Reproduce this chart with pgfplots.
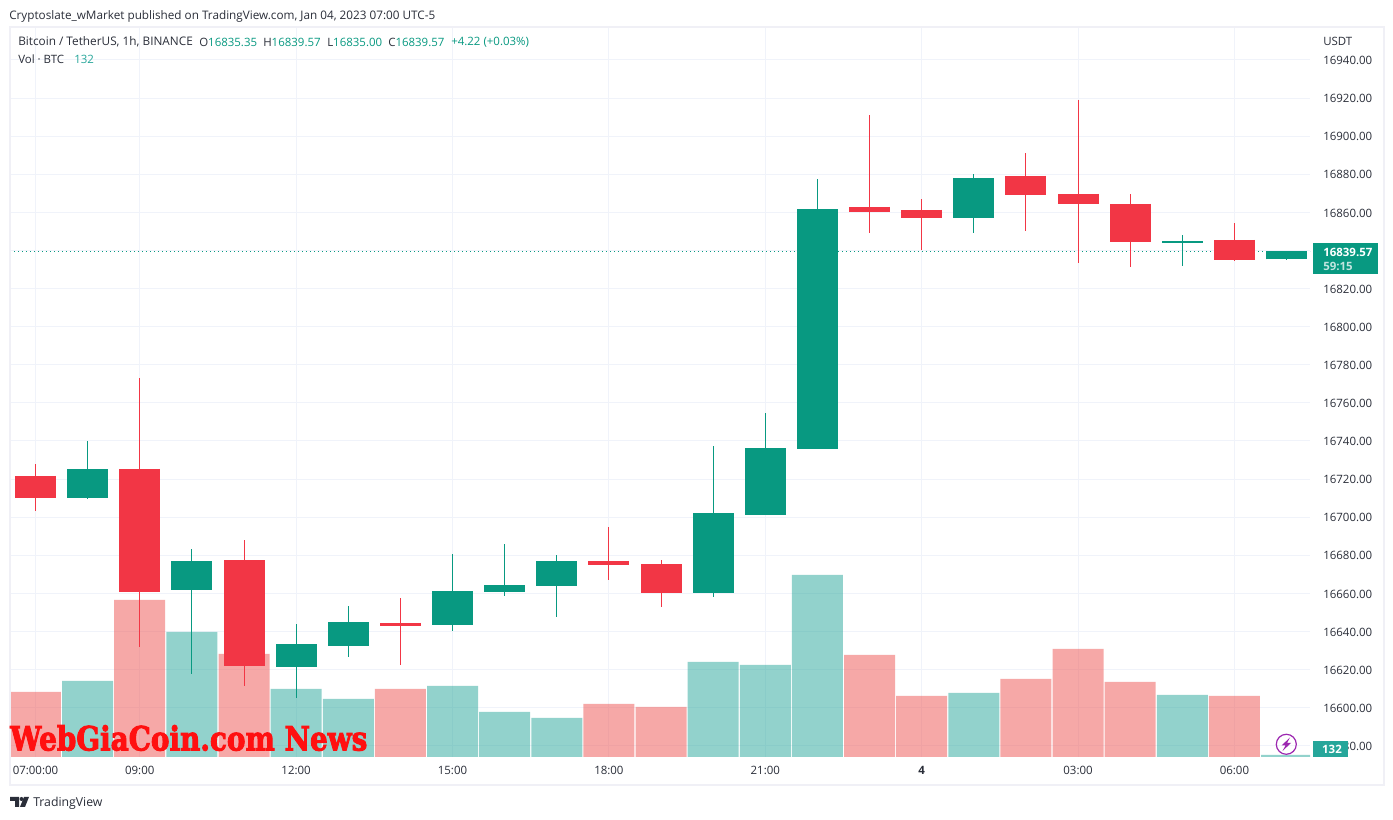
\documentclass[border=0pt]{standalone}
\usepackage{fontspec}
\setmainfont{Open Sans}
\newfontfamily\wmfont{DejaVu Serif}[BoldFeatures={FakeBold=3}]
\usepackage{pgfplots}
\usepackage{pgfplotstable}
\pgfplotsset{compat=1.18}
\definecolor{upc}{HTML}{089981}
\definecolor{dnc}{HTML}{F23645}
\definecolor{vup}{HTML}{26A69A}
\definecolor{vdn}{HTML}{EF5350}
\definecolor{gridc}{HTML}{F0F3FA}
\definecolor{framec}{HTML}{F0F0F6}
\definecolor{txt}{HTML}{2A2E39}
\definecolor{boltc}{HTML}{9C27B0}
% x open high low close
\pgfplotstableread{
x  open    high    low     close
1  16710.1 16740.0 16709.6 16725.3
3  16661.8 16683.3 16617.7 16677.0
5  16621.4 16643.9 16605.1 16633.4
6  16632.4 16653.4 16626.6 16645.0
8  16643.4 16680.7 16640.3 16661.3
9  16660.7 16685.9 16658.6 16664.4
10 16663.9 16680.2 16647.6 16677.0
13 16660.2 16737.4 16658.1 16702.2
14 16701.2 16754.7 16701.2 16736.3
15 16735.8 16877.6 16735.8 16861.8
18 16857.1 16880.2 16849.2 16878.1
22 16844.0 16848.2 16831.9 16845.0
24 16835.35 16839.57 16835.0 16839.57
}\upcandles
\pgfplotstableread{
x  open    high    low     close
0  16721.6 16727.9 16703.3 16710.1
2  16725.3 16773.1 16631.9 16660.7
4  16677.5 16688.0 16611.4 16621.9
7  16644.5 16657.6 16622.4 16642.9
11 16677.0 16694.9 16667.0 16674.9
12 16675.4 16677.5 16652.9 16660.2
16 16862.9 16911.2 16849.2 16860.2
17 16861.3 16867.1 16840.3 16857.1
19 16879.1 16891.2 16850.3 16869.2
20 16869.7 16919.0 16833.5 16864.4
21 16864.4 16869.7 16831.4 16844.5
23 16845.5 16854.5 16834.5 16835.0
}\dncandles
\pgfplotstableread{
x vol
1  5016
3  8250
5  4488
6  3828
8  4686
9  2970
10 2574
13 6270
14 6072
15 12012
18 4224
22 4092
24 132
}\upvol
\pgfplotstableread{
x vol
0  4290
2  10362
4  6798
7  4488
11 3498
12 3300
16 6732
17 4026
19 5148
20 7128
21 4950
23 4026
}\dnvol
\pgfplotsset{pane/.style={
  at={(7.5pt,47.25pt)},anchor=south west,scale only axis,
  width=975pt,height=548.25pt,
  xmin=-0.489,xmax=24.45}}
\begin{document}
\begin{tikzpicture}
\path[use as bounding box,fill=white] (0,0) rectangle (1044.75pt,615pt);
% grid and tick labels
\begin{axis}[pane,ymin=16574.1,ymax=16957.8,
  axis line style={draw=none},
  xtick={0,2,5,8,11,14,17,20,23},
  xticklabels={07:00:00,09:00,12:00,15:00,18:00,21:00,\textbf{4},03:00,06:00},
  ytick={16580,16600,16620,16640,16660,16680,16700,16720,16740,16760,16780,16800,16820,16860,16880,16900,16920,16940},
  extra y ticks={16840},extra y tick labels={},
  extra tick style={grid=major},
  yticklabel pos=right,
  scaled y ticks=false,
  major tick length=0pt,
  grid=major,
  grid style={gridc,line width=0.75pt},
  yticklabel style={/pgf/number format/assume math mode=true,
    /pgf/number format/fixed,
    /pgf/number format/fixed zerofill,
    /pgf/number format/precision=2,
    /pgf/number format/1000 sep={},
    anchor=west,inner sep=0pt,xshift=9.75pt,yshift=-0.5pt},
  tick label style={font=\fontsize{8.6pt}{10pt}\selectfont,text=txt},
  xticklabel style={anchor=north,inner sep=0pt,yshift=-6.6pt},
]
\addplot[upc,line width=0.75pt,dash pattern=on 0.75pt off 2.25pt] coordinates {(-0.489,16839.57) (24.45,16839.57)};
\end{axis}
% volume
\begin{axis}[pane,ymin=0,ymax=48246,hide axis,ybar,bar width=38.25pt]
\addplot[bar shift=0pt,draw=none,fill=vup,fill opacity=0.5] table[x=x,y=vol] {\upvol};
\addplot[bar shift=0pt,draw=none,fill=vdn,fill opacity=0.5] table[x=x,y=vol] {\dnvol};
\end{axis}
% candles
\begin{axis}[pane,ymin=16574.1,ymax=16957.8,hide axis]
\addplot[draw=none,forget plot,error bars/.cd,y dir=both,y explicit,error mark=none,
  error bar style={upc,line width=0.75pt}]
  table[x=x,y=open,y error plus expr=\thisrow{high}-\thisrow{open},y error minus expr=\thisrow{open}-\thisrow{low}] {\upcandles};
\addplot[draw=none,forget plot,error bars/.cd,y dir=plus,y explicit,error mark=none,
  error bar style={upc,line width=30.75pt}]
  table[x=x,y=open,y error plus expr=\thisrow{close}-\thisrow{open}] {\upcandles};
\addplot[draw=none,forget plot,error bars/.cd,y dir=both,y explicit,error mark=none,
  error bar style={dnc,line width=0.75pt}]
  table[x=x,y=open,y error plus expr=\thisrow{high}-\thisrow{open},y error minus expr=\thisrow{open}-\thisrow{low}] {\dncandles};
\addplot[draw=none,forget plot,error bars/.cd,y dir=minus,y explicit,error mark=none,
  error bar style={dnc,line width=30.75pt}]
  table[x=x,y=open,y error minus expr=\thisrow{open}-\thisrow{close}] {\dncandles};
\end{axis}
\begin{scope}[x=0.75pt,y=-0.75pt,yshift=615pt,every node/.style={inner sep=0pt,anchor=west,font=\fontsize{8.6pt}{10pt}\selectfont,text=txt}]
\draw[framec,line width=1.5pt] (9.5,27) rectangle (1383.5,785);
\node[font=\fontsize{8.8pt}{10pt}\selectfont] at (9,16) {Cryptoslate\_wMarket published on TradingView.com, Jan 04, 2023 07:00 UTC-5};
\node[font=\fontsize{8.85pt}{10pt}\selectfont] at (18,42) {Bitcoin / TetherUS, 1h, BINANCE};
\node at (199,42) {O\textcolor{upc}{16835.35}};
\node at (263,42) {H\textcolor{upc}{16839.57}};
\node at (327,42) {L\textcolor{upc}{16835.00}};
\node at (388,42) {C\textcolor{upc}{16839.57}};
\node at (451,42) {\textcolor{upc}{+4.22 (+0.03\%)}};
\node at (18,59) {Vol · BTC};
\node at (74,59) {\textcolor{vup}{132}};
\node at (1323,41) {USDT};
% last price label
\fill[upc] (1313,243) rectangle (1378,274);
\node[text=white] at (1323,252) {\textbf{16839.57}};
\node[text=white!75!upc] at (1323,266) {\textbf{59:15}};
% volume label
\fill[vup] (1313,741) rectangle (1348,757);
\node[text=white,anchor=center] at (1332,749.5) {\textbf{132}};
% bolt icon
\draw[boltc,line width=0.9pt] (1286.3,744.3) circle (10);
\fill[boltc] (1290,737.5) -- (1281.5,745.5) -- (1285.5,745.5) -- (1282.5,751) -- (1291,743) -- (1287,743) -- cycle;
% watermark
\node[text={rgb,255:red,255;green,16;blue,16},font=\wmfont\bfseries\fontsize{25pt}{28pt}\selectfont,xscale=0.835,transform shape] at (10,738) {WebGiaCoin.com News};
% logo
\fill[txt] (10,797) -- (19,797) -- (19,807) -- (15,807) -- (15,801) -- (10,801) -- cycle;
\fill[txt] (21.5,799) circle (2);
\fill[txt] (24,797) -- (29,797) -- (25,807) -- (20,807) -- cycle;
\node[font=\fontsize{9.2pt}{10pt}\selectfont] at (33,803.5) {TradingView};
\end{scope}
\end{tikzpicture}
\end{document}
